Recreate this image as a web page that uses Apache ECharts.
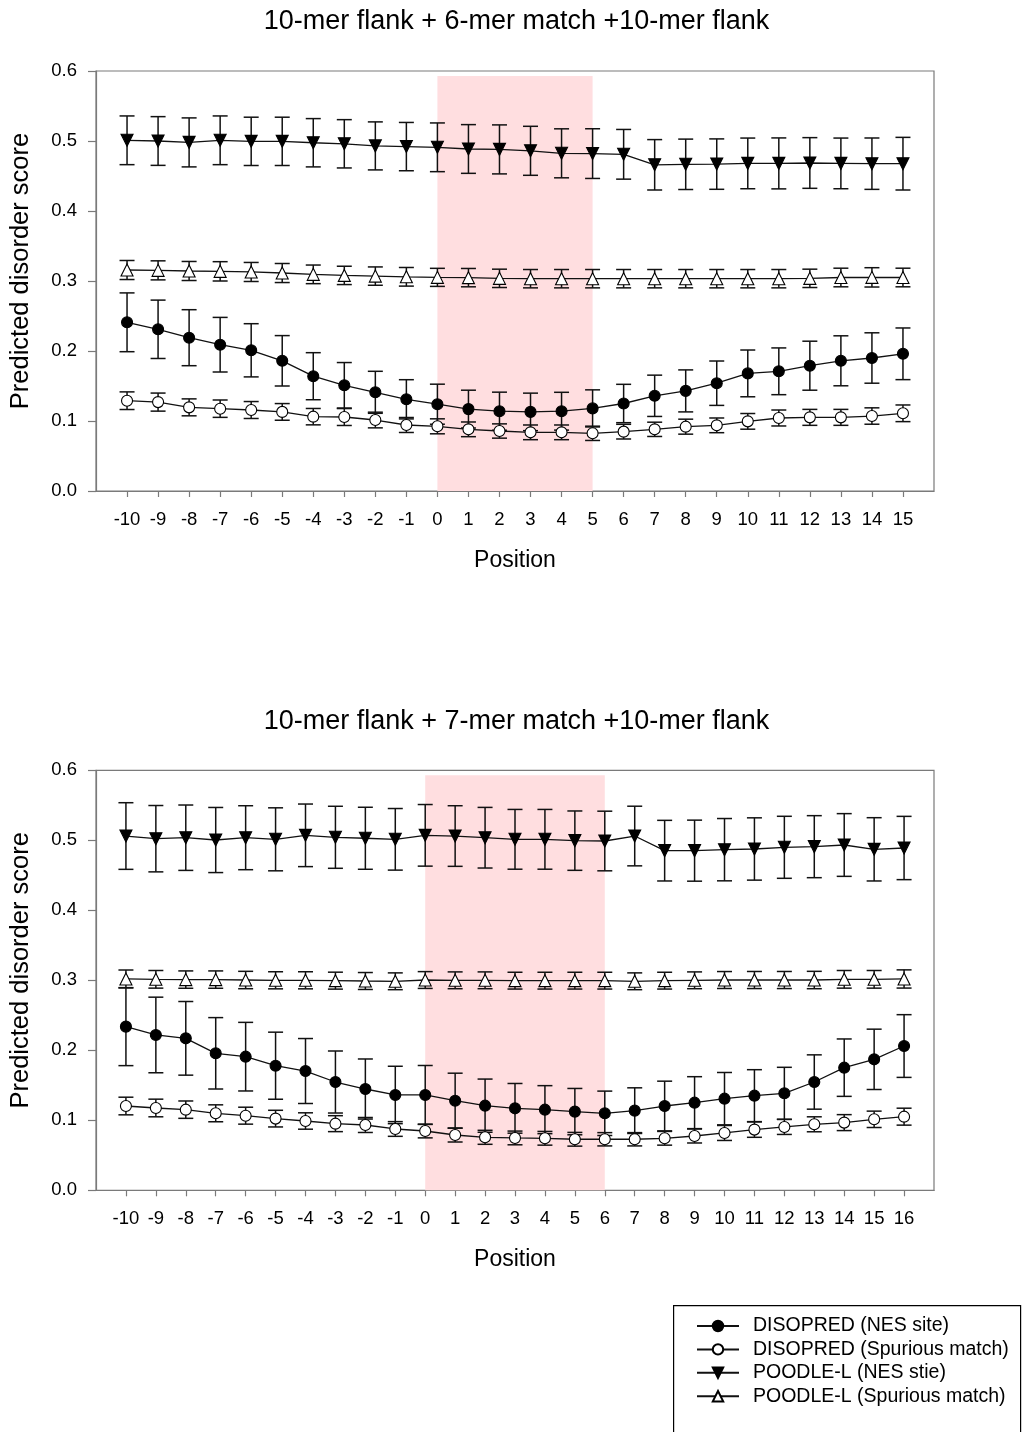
<!DOCTYPE html>
<html>
<head>
<meta charset="utf-8">
<script src="https://cdn.jsdelivr.net/npm/echarts@6/dist/echarts.min.js"></script>
<style>
html,body{margin:0;padding:0;background:#fff;}
#chart{width:1033px;height:1432px;}
</style>
</head>
<body>
<div id="chart"></div>
<script>
// ---------- DATA ----------
const title1 = '10-mer flank + 6-mer match +10-mer flank';
const title2 = '10-mer flank + 7-mer match +10-mer flank';
const seriesNames = ['DISOPRED (NES site)', 'DISOPRED (Spurious match)', 'POODLE-L (NES stie)', 'POODLE-L (Spurious match)'];
const yTicks = [0, 0.1, 0.2, 0.3, 0.4, 0.5, 0.6];

// Chart 1 (positions -10 .. 15), shaded match region 0..5
const cats1 = ['-10','-9','-8','-7','-6','-5','-4','-3','-2','-1','0','1','2','3','4','5','6','7','8','9','10','11','12','13','14','15'];
const shade1 = ['0', '5'];
const disoNes1 = [0.241,0.231,0.219,0.209,0.201,0.186,0.164,0.151,0.141,0.131,0.124,0.117,0.114,0.113,0.114,0.118,0.125,0.136,0.143,0.154,0.168,0.171,0.179,0.186,0.190,0.196];
const disoNes1Err = [0.042,0.0417,0.040,0.039,0.038,0.036,0.0336,0.0325,0.030,0.028,0.0286,0.027,0.0272,0.0268,0.027,0.0265,0.0274,0.0295,0.030,0.0317,0.0334,0.0334,0.035,0.0357,0.036,0.0369];
const disoSp1 = [0.129,0.127,0.1195,0.1176,0.1157,0.113,0.1062,0.1057,0.1014,0.0943,0.0924,0.0881,0.0857,0.0838,0.0838,0.0824,0.0848,0.0881,0.0919,0.0938,0.0995,0.1043,0.1052,0.1052,0.1071,0.111];
const disoSp1Err = [0.0126,0.0129,0.0121,0.0124,0.0121,0.0119,0.0117,0.0121,0.0112,0.0107,0.0107,0.0105,0.0102,0.0105,0.0105,0.0102,0.0105,0.0102,0.0107,0.0105,0.0112,0.0114,0.0114,0.0114,0.0117,0.0119];
const poNes1 = [0.501,0.500,0.498,0.501,0.4995,0.4995,0.4975,0.496,0.493,0.492,0.491,0.4886,0.488,0.486,0.4824,0.482,0.481,0.466,0.4667,0.467,0.468,0.468,0.4686,0.468,0.4676,0.4676];
const poNes1Err = [0.0348,0.0348,0.035,0.0348,0.0345,0.0345,0.0345,0.0345,0.0343,0.0345,0.0348,0.0348,0.035,0.035,0.035,0.0355,0.0355,0.036,0.036,0.036,0.0362,0.0364,0.0362,0.0362,0.0367,0.0376];
const poSp1 = [0.3157,0.3152,0.3143,0.3138,0.3129,0.3114,0.3095,0.308,0.307,0.306,0.3052,0.3048,0.3038,0.3033,0.3033,0.3033,0.3033,0.3033,0.3033,0.3033,0.3033,0.3033,0.3038,0.305,0.3052,0.305];
const poSp1Err = [0.0136,0.0136,0.0136,0.0138,0.0136,0.0136,0.0133,0.0131,0.0131,0.0133,0.0129,0.0131,0.0131,0.0131,0.0131,0.0131,0.0131,0.0131,0.0131,0.0131,0.0131,0.0131,0.0131,0.0133,0.0138,0.0133];

// Chart 2 (positions -10 .. 16), shaded match region 0..6
const cats2 = ['-10','-9','-8','-7','-6','-5','-4','-3','-2','-1','0','1','2','3','4','5','6','7','8','9','10','11','12','13','14','15','16'];
const shade2 = ['0', '6'];
const disoNes2 = [0.2338,0.2219,0.2171,0.1957,0.1909,0.178,0.1704,0.1547,0.1447,0.1362,0.1362,0.128,0.1209,0.1171,0.1152,0.1124,0.110,0.1138,0.1204,0.1252,0.1309,0.1352,0.1386,0.1547,0.1752,0.1871,0.2061];
const disoNes2Err = [0.0557,0.054,0.0526,0.051,0.049,0.0479,0.0464,0.0443,0.0429,0.041,0.0421,0.0393,0.038,0.0355,0.0343,0.0331,0.0317,0.0326,0.0355,0.0371,0.0374,0.0371,0.0371,0.0388,0.041,0.0431,0.0448];
const disoSp2 = [0.1204,0.1176,0.1152,0.110,0.1066,0.1024,0.099,0.0952,0.0933,0.0876,0.0847,0.079,0.0757,0.0748,0.0743,0.0729,0.0729,0.0729,0.0743,0.0776,0.0819,0.0867,0.0905,0.0943,0.0967,0.1014,0.1052];
const disoSp2Err = [0.0126,0.0126,0.0124,0.0121,0.0121,0.0119,0.0117,0.0114,0.0107,0.0105,0.0098,0.010,0.010,0.0098,0.0098,0.0098,0.0095,0.0095,0.0098,0.010,0.0107,0.011,0.0107,0.0107,0.0114,0.0117,0.0121];
const poNes2 = [0.5061,0.5023,0.5037,0.5004,0.5037,0.5014,0.5071,0.5043,0.5029,0.5014,0.5071,0.5061,0.5037,0.5014,0.5014,0.4995,0.499,0.5061,0.4852,0.4852,0.4866,0.4876,0.49,0.4909,0.4933,0.4871,0.489];
const poNes2Err = [0.0476,0.0474,0.0467,0.0465,0.0457,0.045,0.0447,0.0443,0.0443,0.044,0.044,0.0433,0.0433,0.0427,0.0427,0.0424,0.0426,0.0426,0.0433,0.0436,0.0445,0.0445,0.0443,0.0443,0.0448,0.0452,0.0452];
const poSp2 = [0.3019,0.3014,0.301,0.301,0.3004,0.300,0.300,0.2995,0.299,0.2986,0.3004,0.300,0.300,0.2995,0.2995,0.2995,0.2995,0.2986,0.2995,0.300,0.3004,0.3004,0.3004,0.3004,0.3014,0.3014,0.3019];
const poSp2Err = [0.0128,0.0126,0.0124,0.0124,0.0124,0.0122,0.0122,0.0121,0.0121,0.012,0.012,0.012,0.012,0.012,0.012,0.012,0.012,0.012,0.012,0.012,0.0121,0.0122,0.0122,0.0124,0.0126,0.0126,0.013];

// ---------- BUILD ----------
const FONT = "'Liberation Sans', Arial, sans-serif";
const AXIS_GREY = '#7a7a7a';
const padCats = c => ['pad0'].concat(c, ['pad1']);
const isPad = v => String(v).indexOf('pad') === 0;

const chart = echarts.init(document.getElementById('chart'), null, {renderer: 'canvas'});

const grids = [
  {left: 96, top: 71, width: 838, height: 420},
  {left: 96, top: 770.3, width: 838, height: 420}
];

function xAxisFor(cats, gi) {
  return {
    type: 'category', gridIndex: gi, data: padCats(cats), boundaryGap: false,
    name: 'Position', nameLocation: 'middle', nameGap: 58,
    nameTextStyle: {fontFamily: FONT, fontSize: 23, color: '#000'},
    axisLine: {show: true, lineStyle: {color: AXIS_GREY, width: 1.2}},
    axisTick: {show: true, length: 6, inside: false, interval: (i, v) => !isPad(v),
               lineStyle: {color: AXIS_GREY, width: 1.2}},
    axisLabel: {interval: (i, v) => !isPad(v), formatter: v => isPad(v) ? '' : v,
                fontFamily: FONT, fontSize: 18.5, color: '#000', margin: 19},
    splitLine: {show: false}
  };
}
function yAxisFor(gi) {
  return {
    type: 'value', gridIndex: gi, min: yTicks[0], max: yTicks[yTicks.length - 1], interval: 0.1,
    name: 'Predicted disorder score', nameLocation: 'middle', nameGap: 62,
    nameTextStyle: {fontFamily: FONT, fontSize: 25.5, color: '#000', padding: [0, 0, 0, 20]},
    axisLine: {show: true, lineStyle: {color: AXIS_GREY, width: 1.2}},
    axisTick: {show: true, length: 8, lineStyle: {color: AXIS_GREY, width: 1.2}},
    axisLabel: {formatter: v => v.toFixed(1), fontFamily: FONT, fontSize: 18.5, color: '#000', margin: 19},
    splitLine: {show: false}
  };
}

const symbolDefs = [
  {symbol: 'circle', size: 11, fill: '#000', rotate: 0},
  {symbol: 'circle', size: 11, fill: '#fff', rotate: 0},
  {symbol: 'triangle', size: 12, fill: '#000', rotate: 180},
  {symbol: 'triangle', size: 12, fill: '#fff', rotate: 0}
];

function lineSeries(name, k, vals, gi, shade, cats) {
  const s = symbolDefs[k];
  const obj = {
    name: name, type: 'line', xAxisIndex: gi, yAxisIndex: gi, z: 4,
    data: vals.map((v, i) => [i + 1, v]),
    symbol: s.symbol, symbolSize: s.size, symbolRotate: s.rotate,
    showAllSymbol: true, animation: false,
    lineStyle: {color: '#111', width: 1.3},
    itemStyle: {color: s.fill, borderColor: '#000', borderWidth: 1.1},
    emphasis: {disabled: true}
  };
  if (shade) {
    obj.markArea = {
      silent: true,
      itemStyle: {color: '#ffdee0'},
      data: [[{xAxis: cats.indexOf(shade[0]) + 1, yAxis: 0}, {xAxis: cats.indexOf(shade[1]) + 1, yAxis: 0.593}]]
    };
  }
  return obj;
}

function errSeries(vals, errs, gi) {
  return {
    type: 'custom', xAxisIndex: gi, yAxisIndex: gi, z: 3, silent: true, animation: false,
    data: vals.map((v, i) => [i + 1, v, errs[i]]),
    encode: {x: 0, y: 1},
    renderItem: function (params, api) {
      const x = api.value(0), m = api.value(1), e = api.value(2);
      const top = api.coord([x, m + e]);
      const bot = api.coord([x, m - e]);
      const hw = 7.5;
      const st = {stroke: '#111', lineWidth: 1.5};
      return {
        type: 'group',
        children: [
          {type: 'line', shape: {x1: top[0], y1: top[1], x2: bot[0], y2: bot[1]}, style: st},
          {type: 'line', shape: {x1: top[0] - hw, y1: top[1], x2: top[0] + hw, y2: top[1]}, style: st},
          {type: 'line', shape: {x1: bot[0] - hw, y1: bot[1], x2: bot[0] + hw, y2: bot[1]}, style: st}
        ]
      };
    }
  };
}

const sets = [
  {gi: 0, cats: cats1, shade: shade1, vals: [disoNes1, disoSp1, poNes1, poSp1], errs: [disoNes1Err, disoSp1Err, poNes1Err, poSp1Err]},
  {gi: 1, cats: cats2, shade: shade2, vals: [disoNes2, disoSp2, poNes2, poSp2], errs: [disoNes2Err, disoSp2Err, poNes2Err, poSp2Err]}
];

const series = [];
sets.forEach(set => {
  set.vals.forEach((vals, k) => {
    series.push(errSeries(vals, set.errs[k], set.gi));
  });
  set.vals.forEach((vals, k) => {
    series.push(lineSeries(seriesNames[k], k, vals, set.gi, k === 0 ? set.shade : null, set.cats));
  });
});

const option = {
  backgroundColor: '#fff',
  animation: false,
  title: [
    {text: title1, left: 'center', top: 8, padding: 0, textStyle: {fontFamily: FONT, fontSize: 27, fontWeight: 'normal', color: '#000'}},
    {text: title2, left: 'center', top: 708, padding: 0, textStyle: {fontFamily: FONT, fontSize: 27, fontWeight: 'normal', color: '#000'}}
  ],
  grid: grids.map(g => Object.assign({show: true, borderColor: AXIS_GREY, borderWidth: 1.2, backgroundColor: 'transparent'}, g)),
  xAxis: [xAxisFor(cats1, 0), xAxisFor(cats2, 1)],
  yAxis: [yAxisFor(0), yAxisFor(1)],
  graphic: [
    {type: 'rect', left: 673, top: 1305, z: 0, silent: true,
     shape: {width: 347, height: 150},
     style: {fill: '#fff', stroke: '#000', lineWidth: 1.2}}
  ],
  legend: {
    show: true, orient: 'vertical', left: 696, top: 1316, z: 10,
    data: seriesNames, selectedMode: false,
    padding: 0,
    itemWidth: 42, itemHeight: 13, itemGap: 3.4,
    textStyle: {fontFamily: FONT, fontSize: 19.5, color: '#000', lineHeight: 20, padding: [0, 0, 0, 9]}
  },
  series: series
};
chart.setOption(option);
</script>
</body>
</html>
